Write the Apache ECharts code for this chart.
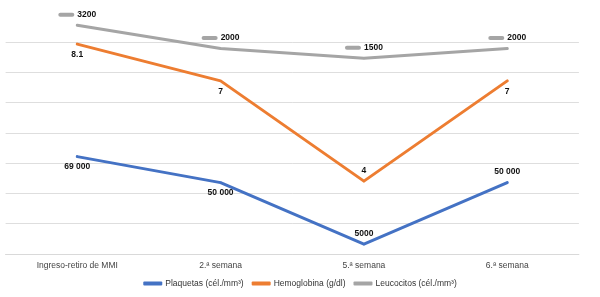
<!DOCTYPE html>
<html>
<head>
<meta charset="utf-8">
<script src="https://cdn.jsdelivr.net/npm/echarts@6/dist/echarts.min.js"></script>
<style>
  html, body { margin: 0; padding: 0; background: #fff; }
  #chart { width: 600px; height: 297px; }
</style>
</head>
<body>
<div id="chart"></div>
<script>
const categories = ['Ingreso-retiro de MMI', '2.ª semana', '5.ª semana', '6.ª semana'];
const plaquetas = [69000, 50000, 5000, 50000];
const hemoglobina = [8.1, 7, 4, 7];
const leucocitos = [3200, 2000, 1500, 2000];
const seriesNames = ['Plaquetas (cél./mm³)', 'Hemoglobina (g/dl)', 'Leucocitos (cél./mm³)'];

// where each value label sits relative to its point
const plaqLabelPos = ['bottom', 'bottom', 'top', 'top'];
const hemoLabelPos = ['bottom', 'bottom', 'top', 'bottom'];

const COLORS = ['#4472C4', '#ED7D31', '#A5A5A5'];
const FONT = '"Liberation Sans", Arial, sans-serif';

const fmtNum = (v) => (v >= 10000 ? String(v).replace(/\B(?=(\d{3})+(?!\d))/g, ' ') : String(v));

const labelBase = {
  show: true,
  fontFamily: FONT,
  fontSize: 8.5,
  fontWeight: 'bold',
  color: '#111',
  distance: 5
};

const withLabels = (values, positions) =>
  values.map((v, i) => ({ value: v, label: { position: positions[i] } }));

const lineSeries = (name, idx, data, label) => ({
  name,
  type: 'line',
  yAxisIndex: idx + 1,
  data,
  symbol: 'circle',
  symbolSize: 2,
  showSymbol: true,
  clip: false,
  lineStyle: { color: COLORS[idx], width: 3, cap: 'round', join: 'round' },
  itemStyle: { color: COLORS[idx] },
  label
});

const hiddenAxis = (min, max) => ({ type: 'value', show: false, min, max, splitLine: { show: false } });

const chart = echarts.init(document.getElementById('chart'), null, { renderer: 'canvas' });

chart.setOption({
  animation: false,
  textStyle: { fontFamily: FONT },
  grid: { left: 5.6, right: 21.1, top: 11.7, bottom: 43 },
  xAxis: {
    type: 'category',
    data: categories,
    boundaryGap: true,
    axisTick: { show: false },
    axisLine: { lineStyle: { color: '#d9d9d9', width: 1 } },
    axisLabel: { color: '#444', fontSize: 8.5, fontFamily: FONT, margin: 7 }
  },
  yAxis: [
    {
      type: 'value',
      min: 0,
      max: 8,
      interval: 1,
      axisLabel: { show: false },
      axisLine: { show: false },
      axisTick: { show: false },
      splitLine: {
        lineStyle: {
          width: 1,
          color: ['#dedede', '#dedede', '#dedede', '#dedede', '#dedede', '#dedede', '#dedede', '#dedede', 'rgba(0,0,0,0)']
        }
      }
    },
    hiddenAxis(-2190, 174930),
    hiddenAxis(1.82, 9.07),
    hiddenAxis(-8600, 3900)
  ],
  legend: {
    bottom: 4,
    left: 'center',
    itemWidth: 19,
    itemHeight: 4,
    itemGap: 8,
    icon: 'roundRect',
    textStyle: { fontSize: 8.5, color: '#333', fontFamily: FONT, padding: [0, 0, 0, -2] },
    data: seriesNames
  },
  series: [
    lineSeries(seriesNames[0], 0, withLabels(plaquetas, plaqLabelPos),
      { ...labelBase, formatter: (p) => fmtNum(p.value) }),
    lineSeries(seriesNames[1], 1, withLabels(hemoglobina, hemoLabelPos),
      { ...labelBase, formatter: (p) => String(p.value) }),
    lineSeries(seriesNames[2], 2, leucocitos, {
      ...labelBase,
      position: 'top',
      formatter: (p) => '{k|}{v|' + fmtNum(p.value) + '}',
      rich: {
        k: { width: 16, height: 4, backgroundColor: COLORS[2], borderRadius: 2 },
        v: { fontSize: 8.5, fontWeight: 'bold', color: '#111', fontFamily: FONT, padding: [0, 0, 0, 3] }
      }
    })
  ]
});
</script>
</body>
</html>
